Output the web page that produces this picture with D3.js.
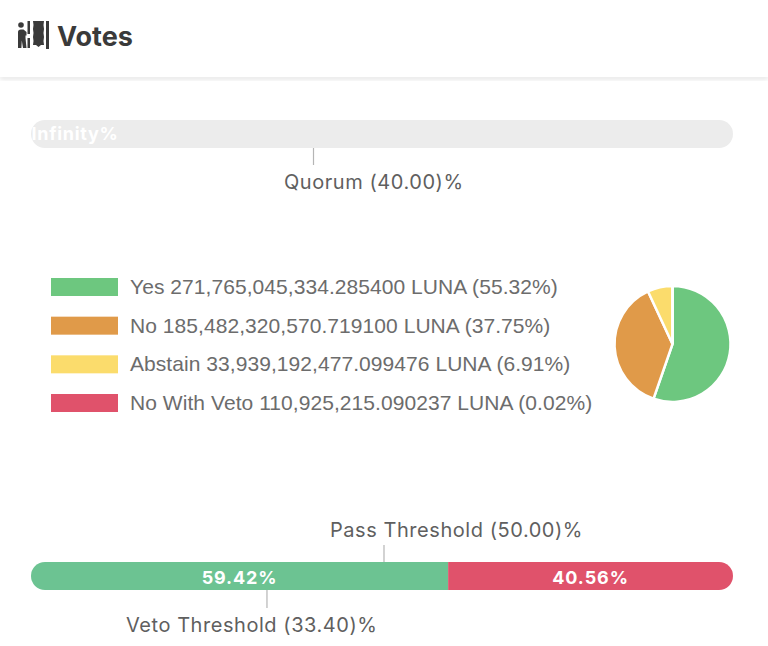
<!DOCTYPE html>
<html lang="en">
<head>
    <meta charset="UTF-8">
    <title>Votes</title>
    <script src="https://d3js.org/d3.v7.min.js"></script>
    <style>
        html, body { margin: 0; padding: 0; background: #fff; }
        svg { display: block; font-family: Inter, "Liberation Sans", sans-serif; }
        .label { font-size: 20px; fill: #5f5f5f; letter-spacing: 0.55px; }
        .legend-label { font-family: "Liberation Sans", sans-serif; font-size: 21px; fill: #6c6c6c; letter-spacing: 0.06px; }
        .pct { font-size: 18px; font-weight: 700; fill: #fff; letter-spacing: 0.9px; text-anchor: middle; }
        .tick-line { stroke: #b5b5b5; stroke-width: 1.2; }
    </style>
</head>
<body>
    <svg id="chart" width="768" height="646"></svg>

    <script>
        // vote breakdown
        const voteNames = ["Yes", "No", "Abstain", "No With Veto"];
        const voteAmounts = ["271,765,045,334.285400", "185,482,320,570.719100", "33,939,192,477.099476", "110,925,215.090237"];
        const votePercents = [55.32, 37.75, 6.91, 0.02];
        const voteColors = ["#6dc77f", "#e09a49", "#fbdc6c", "#e0526b"];

        // bottom bar
        const barValues = [59.42, 40.56];
        const barColors = ["#6cc392", "#e0526b"];

        // threshold markers
        const quorum = 40.00;
        const passThreshold = 50.00;
        const vetoThreshold = 33.40;

        const svg = d3.select("#chart");

        // header with shadow
        const defs = svg.append("defs");
        const blur = defs.append("filter").attr("id", "shadow").attr("y", "-50%").attr("height", "200%");
        blur.append("feGaussianBlur").attr("stdDeviation", 2);
        const clip = defs.append("clipPath").attr("id", "barClip");
        const clipTop = defs.append("clipPath").attr("id", "topClip");

        svg.append("rect").attr("x", 0).attr("y", 76).attr("width", 768).attr("height", 3)
            .attr("fill", "#dcdcdc").attr("filter", "url(#shadow)");
        svg.append("rect").attr("x", 0).attr("y", 0).attr("width", 768).attr("height", 77).attr("fill", "#fff");

        // icon: person at ballot box
        const icon = svg.append("g").attr("transform", "translate(17,21)").attr("fill", "#3a3a3a");
        icon.append("circle").attr("cx", 4).attr("cy", 4).attr("r", 2.8);
        icon.append("path").attr("d", "M1 11 Q1 8.5 4 8.5 L6.5 8.5 L9.5 11 L9.5 14.5 L8.5 14.5 L8.5 17 L9.5 27 L6 27 L4.8 19.5 L4.4 27 L1 27 Z");
        icon.append("rect").attr("x", 10.5).attr("y", 0).attr("width", 2.5).attr("height", 13);
        icon.append("rect").attr("x", 10.5).attr("y", 17).attr("width", 2.5).attr("height", 10);
        icon.append("path").attr("d", "M16 0 L27 0 L26.5 4 L27 8 L26.5 12 L27 16 L26.5 20 L27 24 L24 24 L21.5 26 L19 24 L16 24 L16.5 20 L16 16 L16.5 12 L16 8 L16.5 4 Z");
        icon.append("rect").attr("x", 29).attr("y", 0).attr("width", 3).attr("height", 28);

        svg.append("text").attr("x", 57).attr("y", 46)
            .style("font-size", "27px").style("font-weight", 700).attr("fill", "#3a3a3a").text("Votes");

        // scales
        const xBar = d3.scaleLinear().domain([0, 100]).range([31, 733]);
        const xMark = d3.scaleLinear().domain([0, 100]).range([31.5, 736.5]);

        function drawMarker(value, y1, y2, textX, textY, txt) {
            svg.append("line").attr("class", "tick-line")
                .attr("x1", xMark(value)).attr("x2", xMark(value)).attr("y1", y1).attr("y2", y2);
            svg.append("text").attr("class", "label").attr("x", textX).attr("y", textY).text(txt);
        }

        // quorum bar
        svg.append("rect").attr("x", xBar(0)).attr("y", 120).attr("width", xBar(100) - xBar(0)).attr("height", 28)
            .attr("rx", 14).attr("fill", "#ececec");
        clipTop.append("rect").attr("x", xBar(0)).attr("y", 120).attr("width", xBar(100) - xBar(0)).attr("height", 28).attr("rx", 14);
        svg.append("text").attr("clip-path", "url(#topClip)").attr("x", 31.5).attr("y", 140)
            .style("font-size", "18px").style("font-weight", 700).attr("fill", "#fff").style("letter-spacing", "0.7px")
            .text("Infinity%");
        drawMarker(quorum, 148, 165, 284, 189, `Quorum (${quorum.toFixed(2)})%`);

        // legend
        const yLegend = d3.scalePoint().domain(voteNames).range([287, 403]);
        const legend = svg.append("g").selectAll("g").data(voteNames).enter().append("g")
            .attr("transform", d => `translate(0,${yLegend(d)})`);
        legend.append("rect").attr("x", 51).attr("y", -9).attr("width", 67).attr("height", 18)
            .attr("fill", (d, i) => voteColors[i]);
        legend.append("text").attr("class", "legend-label").attr("x", 130).attr("y", 7)
            .text((d, i) => `${d} ${voteAmounts[i]} LUNA (${votePercents[i].toFixed(2)}%)`);

        // pie
        const pie = d3.pie().sort(null).value(d => d);
        const arc = d3.arc().innerRadius(0).outerRadius(58);
        svg.append("g").attr("transform", "translate(672.5,344)")
            .selectAll("path").data(pie(votePercents)).enter().append("path")
            .attr("d", arc).attr("fill", (d, i) => voteColors[i])
            .attr("stroke", "#fff").attr("stroke-width", 2.5).attr("stroke-linejoin", "miter");

        // voting result bar
        clip.append("rect").attr("x", xBar(0)).attr("y", 562).attr("width", xBar(100) - xBar(0)).attr("height", 28).attr("rx", 14);
        const starts = [0, barValues[0]];
        const ends = [barValues[0], 100];
        const bottom = svg.append("g").attr("clip-path", "url(#barClip)");
        bottom.selectAll("rect").data(barValues).enter().append("rect")
            .attr("x", (d, i) => xBar(starts[i])).attr("y", 562)
            .attr("width", (d, i) => xBar(ends[i]) - xBar(starts[i])).attr("height", 28)
            .attr("fill", (d, i) => barColors[i]);
        svg.selectAll("text.pct").data(barValues).enter().append("text").attr("class", "pct")
            .attr("x", (d, i) => (xBar(starts[i]) + xBar(ends[i])) / 2).attr("y", 583.5)
            .text(d => d.toFixed(2) + "%");

        drawMarker(passThreshold, 545, 562, 330, 537, `Pass Threshold (${passThreshold.toFixed(2)})%`);
        drawMarker(vetoThreshold, 590, 608, 126, 632, `Veto Threshold (${vetoThreshold.toFixed(2)})%`);
    </script>
</body>
</html>
